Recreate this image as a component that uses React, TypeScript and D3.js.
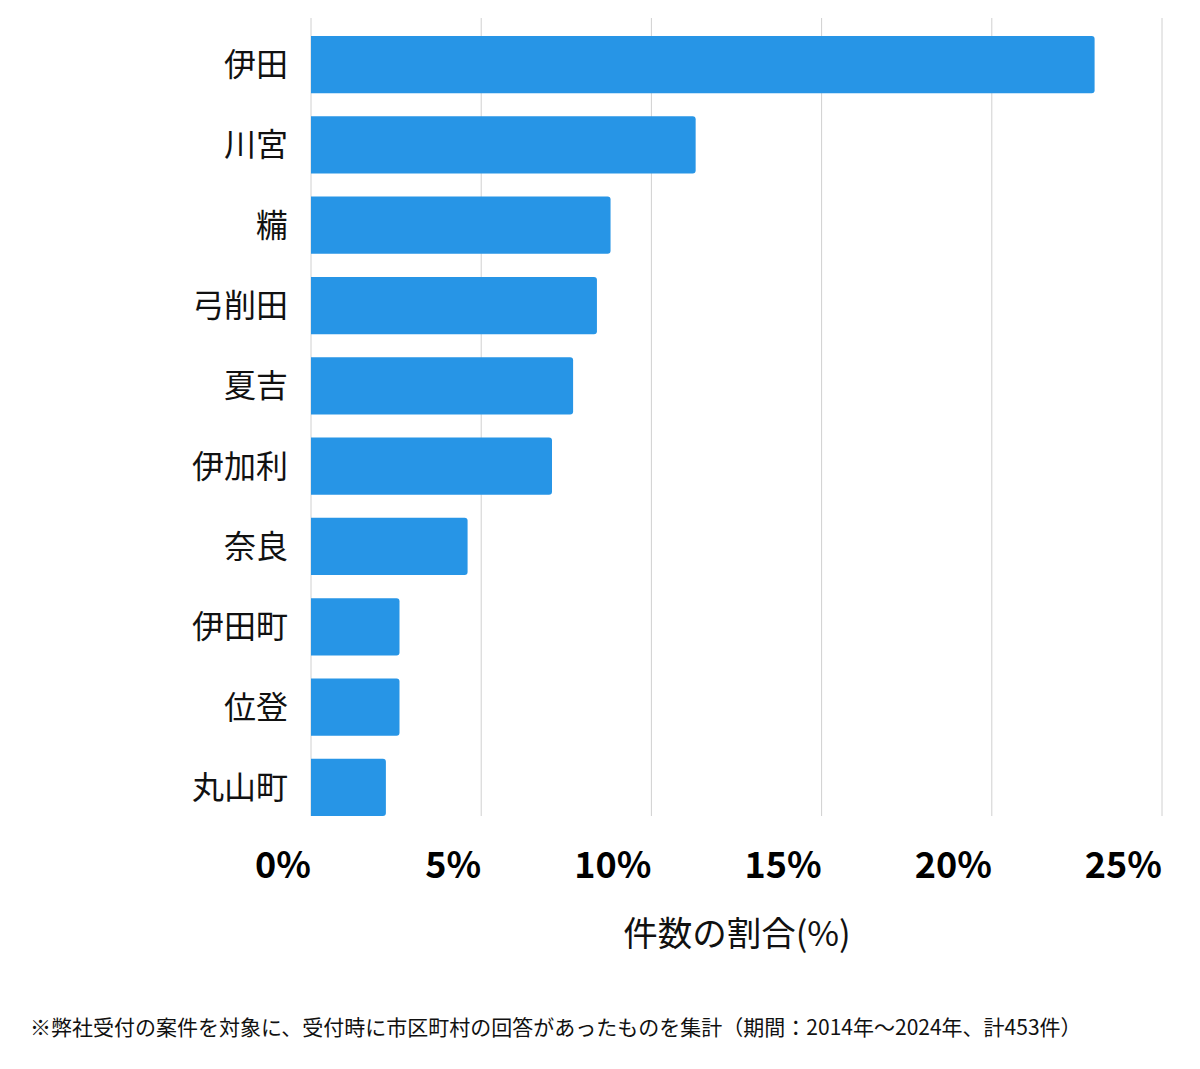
import React from "react";
import * as d3 from "d3";

const categories = ["伊田", "川宮", "糒", "弓削田", "夏吉", "伊加利", "奈良", "伊田町", "位登", "丸山町"];
const values = [23.02, 11.3, 8.8, 8.4, 7.7, 7.08, 4.6, 2.6, 2.6, 2.2];
const ticks = [0, 5, 10, 15, 20, 25];
const axisTitle = "件数の割合(%)";
const footnote = "※弊社受付の案件を対象に、受付時に市区町村の回答があったものを集計（期間：2014年〜2024年、計453件）";

const FONT = "'Noto Sans CJK JP', 'Noto Sans', sans-serif";

export default function App() {
  const W = 1200, H = 1069;
  const left = 311, right = 1162, top = 18, bottom = 816;
  const x = d3.scaleLinear().domain([0, 25]).range([left, right]);
  const y = d3.scaleBand<string>().domain(categories).range([36, 816]).paddingInner(0.287).paddingOuter(0);
  const r = 3;
  const barPath = (v: number, c: string) => {
    const x0 = x(0), x1 = x(v), y0 = y(c)!, h = y.bandwidth();
    return `M${x0},${y0}H${x1 - r}Q${x1},${y0} ${x1},${y0 + r}V${y0 + h - r}Q${x1},${y0 + h} ${x1 - r},${y0 + h}H${x0}Z`;
  };
  return (
    <svg width={W} height={H} style={{ position: "absolute", left: 0, top: 0, background: "#fff" }} fontFamily={FONT}>
      {ticks.map((t) => (
        <line key={t} x1={x(t)} x2={x(t)} y1={top} y2={bottom} stroke="#d0d0d0" strokeWidth={1} />
      ))}
      {categories.map((c, i) => (
        <path key={c} d={barPath(values[i], c)} fill="#2795e6" />
      ))}
      {categories.map((c) => (
        <text key={c} x={288} y={y(c)! + y.bandwidth() / 2} dy="0.36em" textAnchor="end" fontSize={32} fill="#111">
          {c}
        </text>
      ))}
      {ticks.map((t) => (
        <text key={t} x={x(t)} y={878} textAnchor="end" fontSize={36} fontWeight="bold" fill="#000">
          {t}%
        </text>
      ))}
      <text x={737} y={946} textAnchor="middle" fontSize={34.5} fill="#111">{axisTitle}</text>
      <text x={30} y={1035} fontSize={21} fill="#111">{footnote}</text>
    </svg>
  );
}
